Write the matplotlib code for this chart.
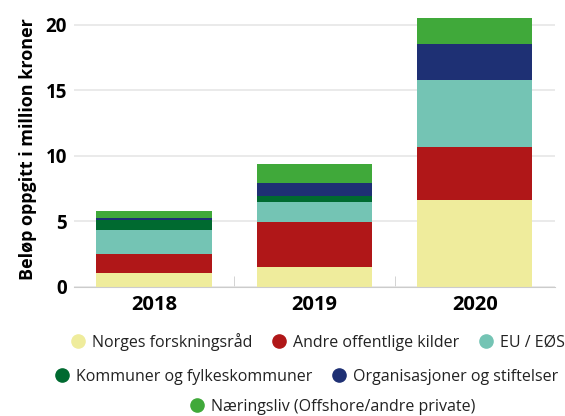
import matplotlib.pyplot as plt
from matplotlib.lines import Line2D
import numpy as np

plt.rcParams['font.family'] = ['Open Sans', 'DejaVu Sans']

years = ['2018', '2019', '2020']
series = ['Norges forskningsråd', 'Andre offentlige kilder', 'EU / EØS',
          'Kommuner og fylkeskommuner', 'Organisasjoner og stiftelser',
          'Næringsliv (Offshore/andre private)']
nfr = [1.05, 1.50, 6.62]
andre = [1.45, 3.44, 4.04]
eu = [1.83, 1.53, 5.09]
kommuner = [0.76, 0.48, 0.05]
org = [0.15, 0.97, 2.70]
naering = [0.54, 1.45, 1.98]
colors = ['#EFEC9C', '#B01718', '#74C4B4', '#006A30', '#1E3074', '#40A93A']

fig = plt.figure(figsize=(5.65, 4.16), dpi=100)
ax = fig.add_axes([0.131, 0.311, 0.851, 0.661])

x = np.arange(len(years))
bottom = np.zeros(len(years))
for vals, c, name in zip([nfr, andre, eu, kommuner, org, naering], colors, series):
    ax.bar(x, vals, 0.72, bottom=bottom, color=c, label=name, zorder=2)
    bottom += np.array(vals)

ax.set_xlim(-0.5, 2.5)
ax.set_ylim(0, 21)
ax.set_yticks([0, 5, 10, 15, 20])
ax.set_xticks(x)
ax.set_xticklabels(years, fontsize=14.5, fontweight='bold')
ax.set_xticks([0.5, 1.5], minor=True)
ax.tick_params(axis='x', which='major', length=0, pad=6)
ax.tick_params(axis='x', which='minor', direction='in', length=8, color='#cccccc')
ax.tick_params(axis='y', length=0, pad=5, labelsize=13.5)
for lab in ax.get_yticklabels():
    lab.set_fontweight('bold')
ax.grid(axis='y', color='#e6e6e6', linewidth=1.2, zorder=0)
for s in ['top', 'right', 'left']:
    ax.spines[s].set_visible(False)
ax.spines['bottom'].set_color('#cccccc')
ax.set_ylabel('Beløp oppgitt i million kroner', fontsize=13, fontweight='bold', labelpad=6)

handles = [Line2D([], [], marker='o', linestyle='', markersize=9.5,
                  markerfacecolor=c, markeredgecolor=c) for c in colors]
rows = [(0, 3, 0.5637, 0.1786), (3, 5, 0.543, 0.0936), (5, 6, 0.589, 0.0216)]
for a, b, xx, yy in rows:
    leg = fig.legend(handles[a:b], series[a:b], loc='center', ncol=b - a,
                     bbox_to_anchor=(xx, yy), frameon=False, fontsize=11.5,
                     handletextpad=0.5, columnspacing=1.25, handlelength=0.8,
                     borderpad=0, borderaxespad=0)
    for t in leg.get_texts():
        t.set_color('#222222')

fig.savefig('out.png')
